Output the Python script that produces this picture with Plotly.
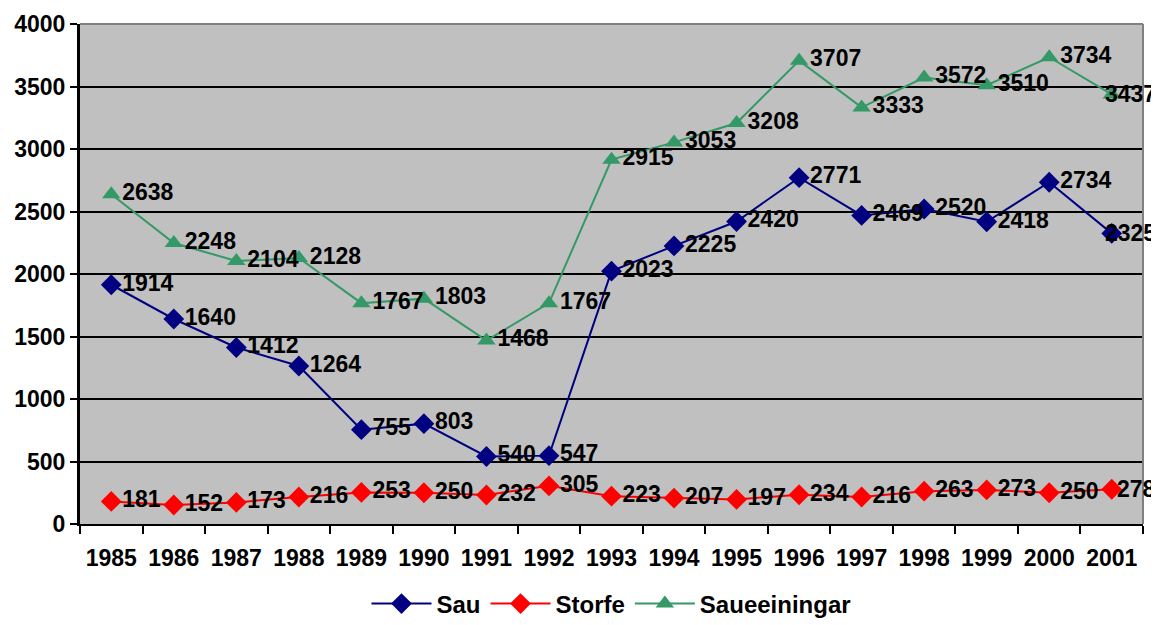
import plotly.graph_objects as go

years = ["1985", "1986", "1987", "1988", "1989", "1990", "1991", "1992", "1993",
         "1994", "1995", "1996", "1997", "1998", "1999", "2000", "2001"]
sau = [1914, 1640, 1412, 1264, 755, 803, 540, 547, 2023, 2225, 2420, 2771, 2469, 2520, 2418, 2734, 2325]
storfe = [181, 152, 173, 216, 253, 250, 232, 305, 223, 207, 197, 234, 216, 263, 273, 250, 278]
saueeiningar = [2638, 2248, 2104, 2128, 1767, 1803, 1468, 1767, 2915, 3053, 3208, 3707, 3333, 3572, 3510, 3734, 3437]
y_ticks = [0, 500, 1000, 1500, 2000, 2500, 3000, 3500, 4000]

FONT = "Liberation Sans, Arial, sans-serif"
lab_font = dict(family=FONT, size=23, color="black", weight="bold")

series = [
    ("Sau", sau, "#000080", "diamond"),
    ("Storfe", storfe, "#FF0000", "diamond"),
    ("Saueeiningar", saueeiningar, "#339966", "triangle-up"),
]

fig = go.Figure()
annotations = []
last_idx = len(years) - 1
for name, vals, col, sym in series:
    labels = [str(v) for v in vals]
    fig.add_trace(go.Scatter(
        x=years, y=vals, name=name, mode="lines+markers+text",
        line=dict(color=col, width=2),
        marker=dict(symbol=sym, size=16, color=col),
        text=labels[:-1] + [""], textposition="middle right",
        textfont=lab_font, cliponaxis=False,
    ))
    # last label is pulled in so it ends at the chart edge, as in the original
    annotations.append(dict(x=last_idx, y=vals[-1], xref="x", yref="y",
                            text=labels[-1], showarrow=False, xanchor="right",
                            yanchor="middle", xshift=46, font=lab_font))

# page body has an 8px margin, so the figure is slightly smaller and margins shifted
fig.update_layout(
    width=1151, height=617,
    margin=dict(l=72, r=16, t=16, b=101, autoexpand=False),
    paper_bgcolor="white", plot_bgcolor="#C0C0C0",
    font=dict(family=FONT, size=23, color="black", weight="bold"),
    showlegend=True,
    legend=dict(orientation="h", x=0.5, xanchor="center", y=-0.115, yanchor="top",
                font=dict(family=FONT, size=24, color="black", weight="bold"),
                itemwidth=60),
    xaxis=dict(type="category", range=[-0.5, len(years) - 0.5],
               tickson="boundaries", ticks="outside", ticklen=8,
               tickwidth=2, tickcolor="black", showgrid=False, automargin=False,
               showline=True, linecolor="black", linewidth=2, tickangle=0,
               ticklabelstandoff=12,
               tickfont=dict(family=FONT, size=23, color="black", weight="bold")),
    yaxis=dict(range=[0, 4000], tickvals=y_ticks, ticks="outside", ticklen=7,
               tickwidth=2, tickcolor="black", showgrid=True, gridcolor="black",
               gridwidth=2, showline=True, linecolor="black", linewidth=3,
               zeroline=False, automargin=False,
               tickfont=dict(family=FONT, size=23, color="black", weight="bold")),
    annotations=annotations,
    shapes=[
        dict(type="line", xref="paper", yref="paper", x0=0, x1=1, y0=1, y1=1,
             line=dict(color="#808080", width=2)),
        dict(type="line", xref="paper", yref="paper", x0=1, x1=1, y0=0, y1=1,
             line=dict(color="#808080", width=2)),
    ],
)

fig.write_html("out.html")
